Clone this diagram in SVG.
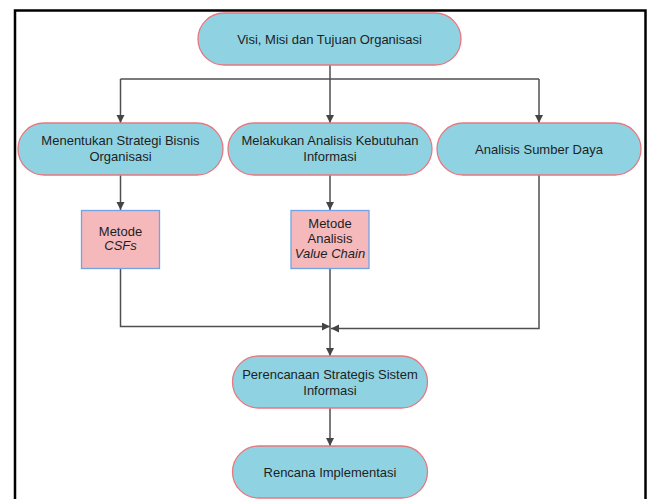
<svg xmlns="http://www.w3.org/2000/svg" width="648" height="499" viewBox="0 0 648 499">
  <style>
    .pill { fill: #8fd3e3; stroke: #e8777e; stroke-width: 1.3; }
    .box { fill: #f5b9bc; stroke: #72a2e6; stroke-width: 1.3; }
    .lbl { font-family: "Liberation Sans", Arial, sans-serif; font-size: 13px; fill: #1e1e1e; text-anchor: middle; }
    .it { font-style: italic; }
    .wire { fill: none; stroke: #4f4f4f; stroke-width: 1.5; }
  </style>
  <defs>
    <marker id="arrow" markerUnits="userSpaceOnUse" markerWidth="10" markerHeight="10" refX="8" refY="4" orient="auto">
      <path d="M0,0 L8,4 L0,8 Z" fill="#454545"/>
    </marker>
  </defs>

  <rect width="648" height="499" fill="#ffffff"/>
  <!-- outer frame -->
  <rect x="15" y="10.5" width="630.5" height="500" fill="none" stroke="#000000" stroke-width="2.5"/>

  <g id="connectors">
    <path class="wire" d="M330 65 V79"/>
    <path class="wire" d="M120.5 79 H539"/>
    <path class="wire" d="M120.5 79 V123" marker-end="url(#arrow)"/>
    <path class="wire" d="M330 79 V123" marker-end="url(#arrow)"/>
    <path class="wire" d="M539 79 V123" marker-end="url(#arrow)"/>
    <path class="wire" d="M120.5 175 V210" marker-end="url(#arrow)"/>
    <path class="wire" d="M330 175 V210" marker-end="url(#arrow)"/>
    <path class="wire" d="M120.5 268 V326.5 H330" marker-end="url(#arrow)"/>
    <path class="wire" d="M539 175 V328.5 H331" marker-end="url(#arrow)"/>
    <path class="wire" d="M330 268 V356" marker-end="url(#arrow)"/>
    <path class="wire" d="M330 408 V446" marker-end="url(#arrow)"/>
  </g>

  <g id="visi-misi">
    <rect class="pill" x="198" y="13" width="263" height="52" rx="26"/>
    <text class="lbl" x="329.5" y="43.5">Visi, Misi dan Tujuan Organisasi</text>
  </g>

  <g id="strategi-bisnis">
    <rect class="pill" x="18" y="123" width="205" height="52" rx="26"/>
    <text class="lbl" x="120.5" y="145.3">Menentukan Strategi Bisnis</text>
    <text class="lbl" x="120.5" y="161.3">Organisasi</text>
  </g>

  <g id="analisis-kebutuhan">
    <rect class="pill" x="228" y="123" width="204" height="52" rx="26"/>
    <text class="lbl" x="330" y="145.3">Melakukan Analisis Kebutuhan</text>
    <text class="lbl" x="330" y="161.3">Informasi</text>
  </g>

  <g id="sumber-daya">
    <rect class="pill" x="437" y="123" width="204" height="52" rx="26"/>
    <text class="lbl" x="539" y="153.5">Analisis Sumber Daya</text>
  </g>

  <g id="metode-csfs">
    <rect class="box" x="81.5" y="210.5" width="78" height="58"/>
    <text class="lbl" x="120.5" y="236.3">Metode</text>
    <text class="lbl it" x="120.5" y="250.3">CSFs</text>
  </g>

  <g id="metode-value-chain">
    <rect class="box" x="291" y="210.5" width="78" height="58"/>
    <text class="lbl" x="330" y="227.8">Metode</text>
    <text class="lbl" x="330" y="242.8">Analisis</text>
    <text class="lbl it" x="330" y="257.8">Value Chain</text>
  </g>

  <g id="perencanaan">
    <rect class="pill" x="232.5" y="356" width="195" height="52" rx="26"/>
    <text class="lbl" x="330" y="378.5">Perencanaan Strategis Sistem</text>
    <text class="lbl" x="330" y="394.5">Informasi</text>
  </g>

  <g id="rencana-implementasi">
    <rect class="pill" x="232.5" y="446" width="195" height="52" rx="26"/>
    <text class="lbl" x="330" y="476.5">Rencana Implementasi</text>
  </g>
</svg>
